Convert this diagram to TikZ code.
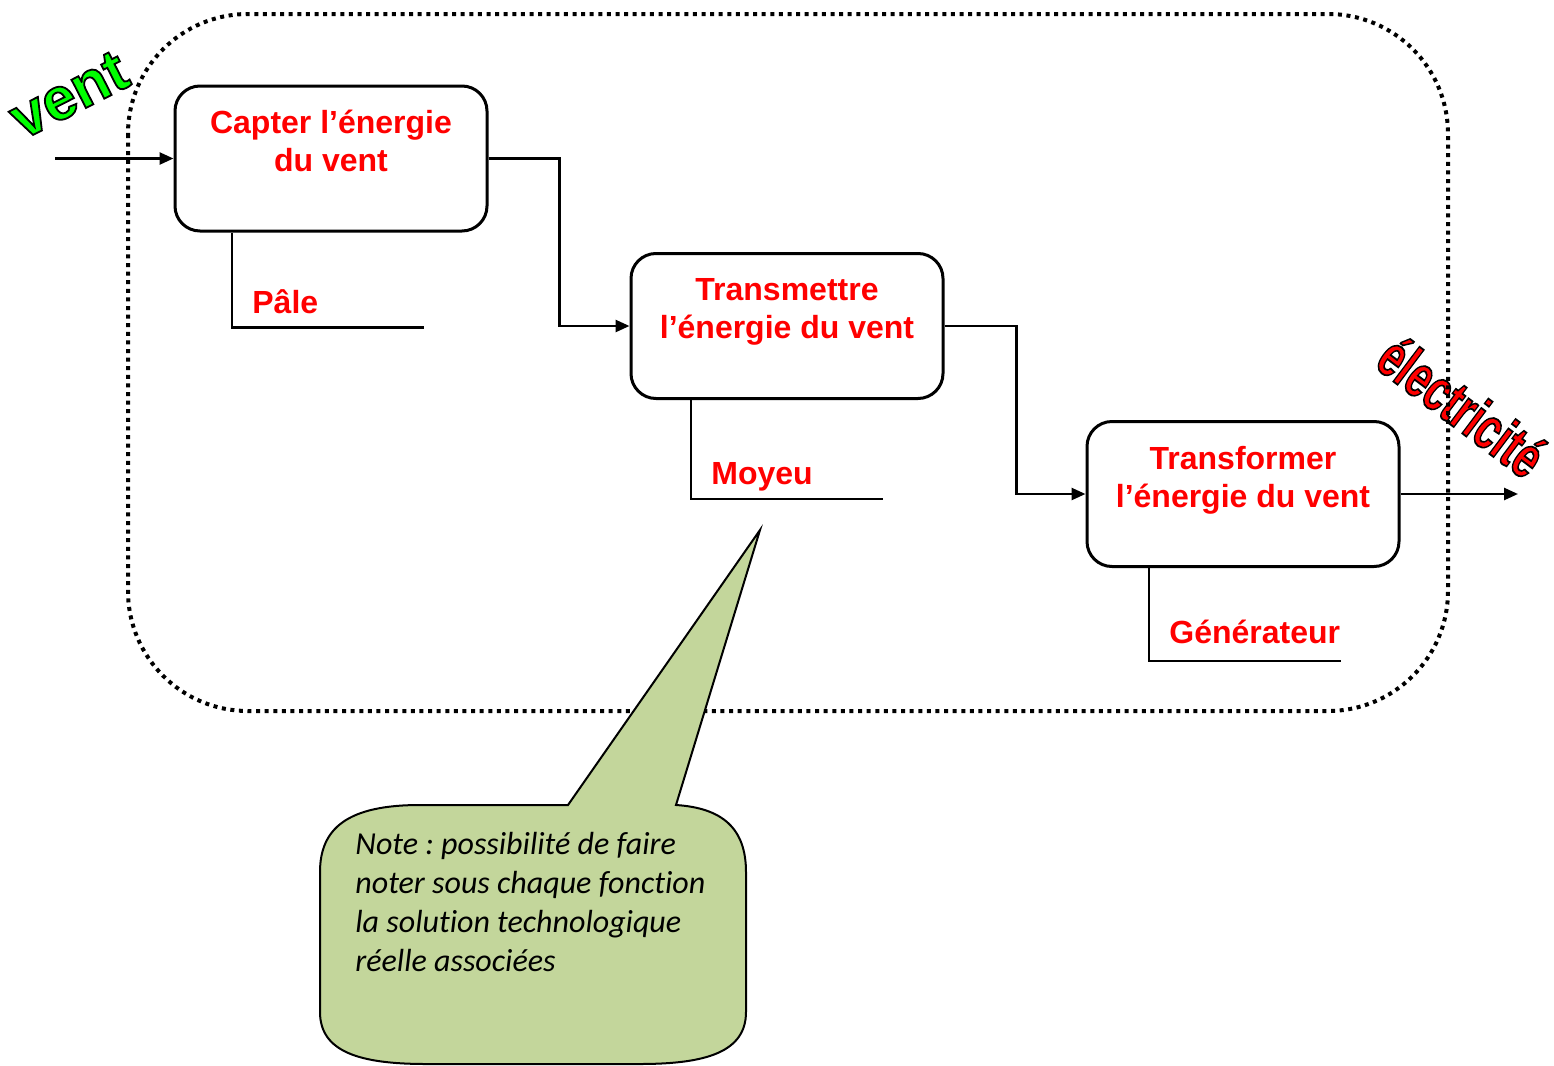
\documentclass[tikz,border=0pt]{standalone}
\usepackage{fontspec}
\setmainfont{Liberation Sans}
\newfontfamily\calib[Ligatures=NoCommon]{Carlito}
\usetikzlibrary{arrows.meta}
\definecolor{calloutgreen}{RGB}{195,214,155}
\definecolor{wordred}{RGB}{255,0,0}
\definecolor{wordgreen}{RGB}{0,255,0}
\newcommand\outlinetext[1]{\special{pdf:literal direct 0 0 0 RG 0.9 w 2 Tr}#1\special{pdf:literal direct 0 Tr}}
\frenchspacing
\begin{document}
\begin{tikzpicture}[x=0.5pt,y=-0.5pt,
  func/.style={draw, line width=1.5pt, rounded corners=12.5pt, minimum width=156pt, minimum height=72.5pt, inner sep=0pt},
  functext/.style={align=center, text=wordred, font=\bfseries\fontsize{16}{19}\selectfont, inner sep=0pt},
  flow/.style={line width=1.3pt, -{Triangle[length=7pt,width=6pt]}},
  link/.style={line width=1.3pt},
  sol/.style={text=wordred, font=\bfseries\fontsize{16}{19}\selectfont, anchor=base west, inner sep=0pt},
  boundary/.style={line width=2pt, dash pattern=on 2pt off 2.3pt, rounded corners=60pt},
  notetext/.style={align=left, anchor=north west, inner sep=0pt, font=\calib\itshape\fontsize{16}{19.5}\selectfont}]
\useasboundingbox (0,0) rectangle (1554,1066);

% big words
\node[rotate=27, text=wordgreen, font=\bfseries\fontsize{30}{30}\selectfont, inner sep=0pt] (vent) at (69,95) {\outlinetext{vent}};
\node[rotate=-37, xscale=0.68, text=wordred, font=\bfseries\fontsize{30}{30}\selectfont, inner sep=0pt] (elec) at (1462,406) {\outlinetext{électricité}};

% boundary
\node[draw=none, inner sep=0pt, minimum width=660pt, minimum height=348.5pt] (sys) at (788,362.5) {};
\draw[boundary] (128,14) rectangle (1448,711);

% functions
\node[func] (f1) at (331,158.5) {};
\node[functext] (t1) at (331,141) {Capter l’énergie\\du vent};
\node[func] (f2) at (787,326) {};
\node[functext] (t2) at (787,312) {Transmettre\\l’énergie du vent};
\node[func] (f3) at (1243,494) {};
\node[functext] (t3) at (1243,480) {Transformer\\l’énergie du vent};

\coordinate (in) at (55,158.5);
\coordinate (out) at (1518,494);

\draw[flow] (in) -- (f1.west);
\draw[flow] (f1.east) -- ++(71,0) |- (f2.west);
\draw[flow] (f2.east) -- ++(72,0) |- (f3.west);
\draw[flow] (f3.east) -- (out);

% solutions
\draw[link] ([xshift=-49.5pt]f1.south) -- ++(0,95) -- ++(192,0);
\node[sol] (s1) at (252,313) {Pâle};
\draw[link] ([xshift=-48pt]f2.south) -- ++(0,99) -- ++(192,0);
\node[sol] (s2) at (711,484) {Moyeu};
\draw[link] ([xshift=-47pt]f3.south) -- ++(0,93) -- ++(192,0);
\node[sol] (s3) at (1169,643) {Générateur};

% callout
\draw[fill=calloutgreen, line width=1pt]
  (568,805) -- (760,530) -- (676,805)
  .. controls (722,808) and (746,828) .. (746,872)
  -- (746,1012)
  .. controls (746,1052) and (706,1064) .. (640,1064)
  -- (426,1064)
  .. controls (360,1064) and (320,1052) .. (320,1012)
  -- (320,872)
  .. controls (320,828) and (348,805) .. (420,805)
  -- cycle;
\node[notetext] (note) at (355,832) {Note : possibilité de faire\\noter sous chaque fonction\\la solution technologique\\réelle associées};
\end{tikzpicture}
\end{document}
